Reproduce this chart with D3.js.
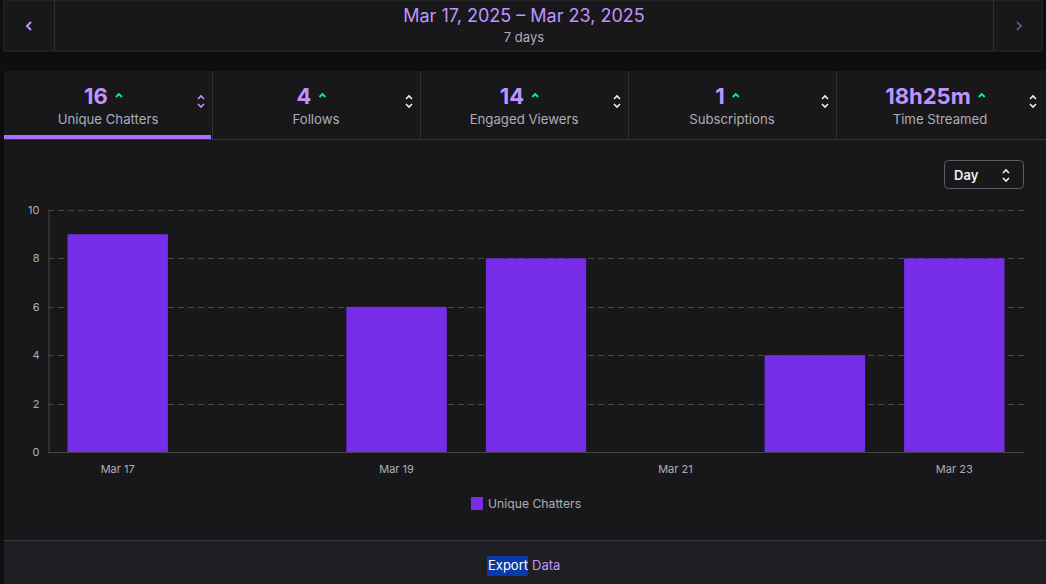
<!DOCTYPE html>
<html><head><meta charset="utf-8">
<script src="https://cdn.jsdelivr.net/npm/d3@7"></script>
<style>
html,body{margin:0;padding:0;background:#0e0e10;width:1046px;height:584px;overflow:hidden;font-family:Inter,"Noto Sans",sans-serif;}
</style></head>
<body><svg id="c" width="1046" height="584"></svg>
<script>
const categories = ["Mar 17","Mar 18","Mar 19","Mar 20","Mar 21","Mar 22","Mar 23"];
const uniqueChatters = [9,0,6,8,0,4,8];
const xTickLabels = ["Mar 17","Mar 19","Mar 21","Mar 23"];
const yTicks = [0,2,4,6,8,10];
const statValues = ["16","4","14","1","18h25m"];
const statLabels = ["Unique Chatters","Follows","Engaged Viewers","Subscriptions","Time Streamed"];
const seriesName = "Unique Chatters";
const dateRange = "Mar 17, 2025 \u2013 Mar 23, 2025";
const rangeLabel = "7 days";

const svg = d3.select("#c");
const purple = "#bf94ff", bar = "#772ce8", gray = "#adadb8";

// top header
svg.append("rect").attr("x",4).attr("y",0).attr("width",1038).attr("height",51).attr("fill","#18181b").attr("stroke","#2a2a2e");
svg.append("line").attr("x1",54.5).attr("x2",54.5).attr("y1",0).attr("y2",51).attr("stroke","#2f2f35");
svg.append("line").attr("x1",993.5).attr("x2",993.5).attr("y1",0).attr("y2",51).attr("stroke","#2f2f35");
svg.append("path").attr("d","M31,22 L27,26 L31,30").attr("fill","none").attr("stroke",purple).attr("stroke-width",2);
svg.append("path").attr("d","M1017,22 L1021,26 L1017,30").attr("fill","none").attr("stroke","#6a5a9a").attr("stroke-width",1.6);
svg.append("text").attr("x",524).attr("y",22).attr("text-anchor","middle").attr("fill",purple).attr("font-size",18).text(dateRange);
svg.append("text").attr("x",524).attr("y",42).attr("text-anchor","middle").attr("fill",gray).attr("font-size",13).text(rangeLabel);

// stats panel
svg.append("rect").attr("x",4).attr("y",71).attr("width",1042).attr("height",69).attr("fill","#18181b");
svg.append("line").attr("x1",4).attr("x2",1046).attr("y1",139.5).attr("y2",139.5).attr("stroke","#34343a");
const tabW = 208;
statValues.forEach((v,i)=>{
  const x0 = 4 + i*tabW;
  if(i>0) svg.append("line").attr("x1",x0+0.5).attr("x2",x0+0.5).attr("y1",71).attr("y2",139).attr("stroke","#2f2f35");
  const cx = x0 + 104;
  const t = svg.append("text").attr("x",cx-12).attr("y",104).attr("text-anchor","middle").attr("fill",purple).attr("font-size",22).attr("font-weight",700).text(v);
  const w = t.node().getComputedTextLength();
  svg.append("path").attr("d",`M${cx-12+w/2+8},97 L${cx-12+w/2+11},94 L${cx-12+w/2+14},97`).attr("fill","none").attr("stroke","#00f593").attr("stroke-width",1.8);
  svg.append("text").attr("x",cx).attr("y",124).attr("text-anchor","middle").attr("fill",gray).attr("font-size",13.2).text(statLabels[i]);
  const ax = x0+197, col = i===0?purple:"#efeff1";
  svg.append("path").attr("d",`M${ax-3},99 L${ax},96 L${ax+3},99 M${ax-3},104 L${ax},107 L${ax+3},104`).attr("fill","none").attr("stroke",col).attr("stroke-width",1.6);
});
svg.append("rect").attr("x",4).attr("y",135).attr("width",207).attr("height",4).attr("fill","#a970ff");

// chart panel
svg.append("rect").attr("x",4).attr("y",140).attr("width",1042).attr("height",400).attr("fill","#18181b");
// Day select
svg.append("rect").attr("x",944.5).attr("y",160.5).attr("width",79).attr("height",28).attr("rx",4).attr("fill","#18181b").attr("stroke","#5c5c63");
svg.append("text").attr("x",954).attr("y",180).attr("fill","#efeff1").attr("font-size",13).attr("font-weight",600).text("Day");
svg.append("path").attr("d","M1003,173 L1006,170 L1009,173 M1003,178 L1006,181 L1009,178").attr("fill","none").attr("stroke","#efeff1").attr("stroke-width",1.6);

const x = d3.scaleBand().domain(categories).range([48,1024]).paddingInner(0.28).paddingOuter(0.14);
const y = d3.scaleLinear().domain([0,10]).range([452,210]);

// grid
svg.append("g").selectAll("line").data(yTicks.filter(d=>d>0)).join("line")
  .attr("x1",48).attr("x2",1024).attr("y1",d=>Math.round(y(d))+0.5).attr("y2",d=>Math.round(y(d))+0.5)
  .attr("stroke","#45454b").attr("stroke-dasharray","6,4");

// bars
svg.append("g").selectAll("rect").data(categories).join("rect")
  .attr("x",d=>x(d)).attr("width",x.bandwidth())
  .attr("y",(d,i)=>y(uniqueChatters[i])).attr("height",(d,i)=>y(0)-y(uniqueChatters[i]))
  .attr("fill",bar);

// y axis
const ya = svg.append("g").attr("transform","translate(48.5,0)")
  .call(d3.axisLeft(y).tickValues(yTicks).tickSize(0).tickPadding(9));
ya.select(".domain").attr("stroke","#45454b");
ya.selectAll("text").attr("fill",gray).attr("font-size",11).attr("font-family","Inter,sans-serif");

// x axis
const xa = svg.append("g").attr("transform","translate(0,452.5)")
  .call(d3.axisBottom(x).tickValues(xTickLabels).tickSize(0).tickPadding(13));
xa.select(".domain").attr("stroke","#45454b").attr("d","M48,0H1024");
xa.selectAll("text").attr("fill",gray).attr("font-size",11).attr("font-family","Inter,sans-serif");

// legend
svg.append("rect").attr("x",471).attr("y",497).attr("width",12).attr("height",13).attr("fill",bar);
svg.append("text").attr("x",488).attr("y",508).attr("fill",gray).attr("font-size",12.2).text(seriesName);

// footer
svg.append("rect").attr("x",4).attr("y",540).attr("width",1042).attr("height",44).attr("fill","#1f1f23");
svg.append("line").attr("x1",4).attr("x2",1046).attr("y1",540.5).attr("y2",540.5).attr("stroke","#3a3a40");
svg.append("rect").attr("x",487).attr("y",556).attr("width",41).attr("height",20).attr("fill","#0a3aa8");
svg.append("text").attr("x",488).attr("y",570).attr("fill","#ffffff").attr("font-size",13).text("Export");
svg.append("text").attr("x",532).attr("y",570).attr("fill",purple).attr("font-size",13).text("Data");
</script></body></html>
